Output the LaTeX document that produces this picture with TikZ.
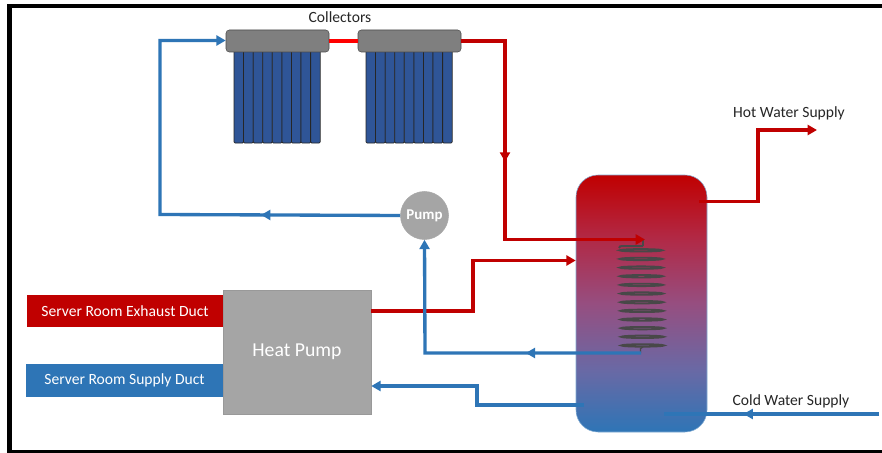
\documentclass[tikz,border=0pt]{standalone}
\usepackage{fontspec}
\setmainfont{Carlito}
\usetikzlibrary{arrows.meta, calc, decorations.markings}
\definecolor{mainRed}{RGB}{192,0,0}
\definecolor{mainBlue}{RGB}{46,117,182}
\definecolor{tubeBlue}{RGB}{47,85,151}
\definecolor{headGray}{RGB}{127,127,127}
\definecolor{boxGray}{RGB}{165,165,165}
\definecolor{coilGray}{RGB}{72,72,72}
\definecolor{textBlack}{RGB}{38,38,38}
\definecolor{tankLow}{RGB}{105,105,165}
\definecolor{tankMid}{RGB}{150,78,128}
\definecolor{tankHigh}{RGB}{178,40,68}
\pgfdeclareverticalshading{tankshade}{100bp}{
    color(0bp)=(mainBlue); color(25bp)=(mainBlue);
    color(37bp)=(tankLow);
    color(50bp)=(tankMid);
    color(63bp)=(tankHigh);
    color(75bp)=(mainRed); color(100bp)=(mainRed)}
\tikzset{
    pipe/.style={line width=2.5pt, line join=miter},
    hotpipe/.style={pipe, mainRed},
    coldpipe/.style={pipe, mainBlue},
    midarrow/.style={postaction={decorate}, decoration={markings, mark=at position #1 with {\arrow{Triangle[length=7pt, width=7.5pt]}}}},
    collectorhead/.style={draw=black!70, fill=headGray, rounded corners=2.5pt, minimum width=77.25pt, minimum height=16.5pt, inner sep=0pt},
    duct/.style={minimum height=24.5pt, inner sep=0pt, text=white, font=\fontsize{11.7pt}{13pt}\selectfont},
    label/.style={text=textBlack, font=\fontsize{11.7pt}{13pt}\selectfont},
}
\begin{document}
\begin{tikzpicture}[x=0.75pt, y=-0.75pt, >={Triangle[length=7pt, width=7.5pt]}]
    \useasboundingbox (0,0) rectangle (882,453);
    \fill[white] (0,0) rectangle (882,453);

    \fill[black] (7,4) rectangle (882,8);
    \fill[black] (7,4) rectangle (12,453);
    \fill[black] (7,449.5) rectangle (882,453);

    \foreach \startx in {234,366} {
        \foreach \i in {0,...,8} {
            \fill[tubeBlue, draw=black!85, line width=0.6pt, rounded corners=0.8pt] ({\startx+\i*9.58},50) rectangle ({\startx+(\i+1)*9.58},143);
        }
    }
    \node[collectorhead] (headA) at (277.5,41) {};
    \node[collectorhead] (headB) at (409.5,41) {};
    \node[label] (collectors) at (340,17.5) {Collectors};

    \node[draw=mainBlue!60, line width=0.4pt, rounded corners=16.5pt, shading=tankshade, minimum width=98.25pt, minimum height=192.75pt, inner sep=0pt] (tank) at (641.5,303.5) {};

    \node[duct, fill=mainRed, minimum width=147pt] (exhaust) at (125,311) {Server Room Exhaust Duct};
    \node[duct, fill=mainBlue, minimum width=147.75pt] (supply) at (124.5,380.5) {Server Room Supply Duct};
    \node[draw=black!40, fill=boxGray, minimum width=111pt, minimum height=93pt, inner sep=0pt, text=white, font=\fontsize{14.8pt}{16pt}\selectfont] (heatpump) at (297,352) {Heat Pump};
    \node[circle, draw=black!35, fill=boxGray, minimum size=36pt, inner sep=0pt, text=white, font=\fontsize{11.2pt}{13pt}\selectfont\bfseries] (pump) at (424.5,215.5) {Pump};

    \node[label] (hotlabel) at (789,113) {Hot Water Supply};
    \node[label] (coldlabel) at (791,401) {Cold Water Supply};

    \coordinate (coilin) at (645,239.5);
    \coordinate (coilout) at (641,353);
    \coordinate (hotstart) at (699,201.5);
    \coordinate (hotend) at (817,130);
    \coordinate (coldstart) at (879,414);
    \coordinate (coldend) at (664,414);
    \coordinate (hpout) at (heatpump.east |- 0,311);
    \coordinate (hpin) at (heatpump.east |- 0,386);
    \coordinate (tankin) at (tank.west |- 0,260.5);
    \coordinate (tankout) at (584,405);

    \foreach \i in {0,...,11} {
        \draw[coilGray, line width=1.4pt] ({640.8+\i*0.17},{250.3+\i*8.65}) ellipse (21.3 and 1.2);
    }
    \draw[coilGray, line width=1.5pt] (643,246) -- (622,246) to[bend right=40] (619,248);
    \draw[coilGray, line width=1pt] (643,240) -- (643,246);
    \draw[coilGray, line width=1pt] (643,347) -- (640.5,348.5) -- (640.5,353);

    \draw[pipe, red] (headA.east) -- (headB.west);
    \draw[hotpipe, midarrow=0.43, ->] (headB.east) -| (505,239.5) -- (coilin);
    \draw[hotpipe, ->] (hotstart) -- (758,201.5) -- (758,130) -- (hotend);
    \draw[hotpipe, ->] (hpout) -- (473,311) -- (473,260.5) -- (tankin);
    \draw[coldpipe, midarrow=0.35, ->] (coilout) -- (425,353) -- (pump.south);
    \draw[coldpipe, midarrow=0.29, ->] (pump.west) -- (160,214.5) -- (160,40.5) -- (headA.west |- 0,40.5);
    \draw[coldpipe, ->] (tankout) -- (477,405) -- (477,386) -- (hpin);
    \draw[coldpipe, midarrow=0.63] (coldstart) -- (coldend);
\end{tikzpicture}
\end{document}
